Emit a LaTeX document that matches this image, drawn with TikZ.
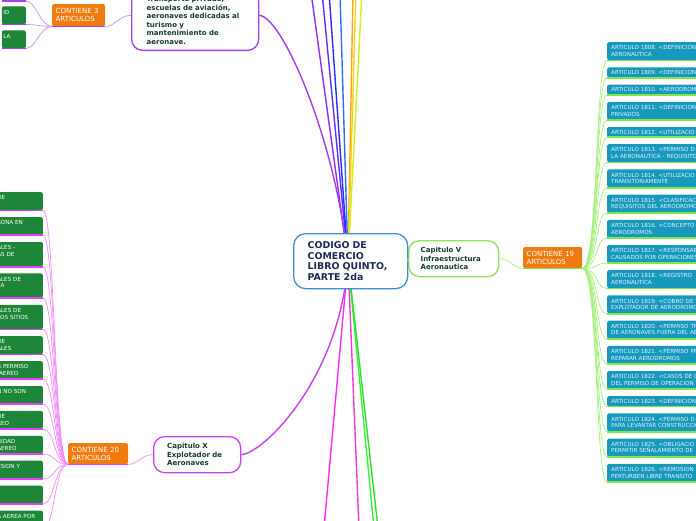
\documentclass[tikz,border=0pt]{standalone}
\usepackage{fontspec}
\setmainfont{DejaVu Sans}
\usetikzlibrary{positioning}
\frenchspacing

\definecolor{rootblue}{HTML}{3C8ED6}
\definecolor{navytxt}{HTML}{1B2A55}
\definecolor{chaptxt}{HTML}{173B2C}
\definecolor{capvgreen}{HTML}{8BE35A}
\definecolor{capxmag}{HTML}{CC3FEE}
\definecolor{toppurp}{HTML}{A43FF0}
\definecolor{cntorange}{HTML}{F07C10}
\definecolor{artteal}{HTML}{1799BE}
\definecolor{arttxt}{HTML}{E4F2F7}
\definecolor{artgreen}{HTML}{1D8639}
\definecolor{fangreen}{HTML}{A6F07E}
\definecolor{linegreen}{HTML}{7EE84A}
\definecolor{fanmag}{HTML}{F28CF7}
\definecolor{linemag}{HTML}{E040FB}
\definecolor{fanpurp}{HTML}{CB92F5}
\definecolor{rayA}{HTML}{8F2BFF}
\definecolor{rayB}{HTML}{5C2DFF}
\definecolor{rayC}{HTML}{2B2BFF}
\definecolor{rayD}{HTML}{2F6BFF}
\definecolor{rayE}{HTML}{FFA31A}
\definecolor{rayF}{HTML}{FFD11A}
\definecolor{rayG}{HTML}{C8F51A}
\definecolor{rayH}{HTML}{FF2BF0}
\definecolor{rayI}{HTML}{EC3CC8}
\definecolor{rayJ}{HTML}{3CF03C}
\definecolor{rayK}{HTML}{2EE02E}

\begin{document}
\begin{tikzpicture}[x=1pt, y=-1pt,
    root/.style={rectangle, draw=rootblue, line width=1.3pt, fill=white, rounded corners=12pt, text=navytxt, font=\fontsize{9.4}{10.7}\selectfont\bfseries, align=left, text width=86pt, inner xsep=14pt, inner ysep=6pt},
    chapter/.style={rectangle, fill=white, line width=1.3pt, rounded corners=11pt, text=chaptxt, font=\fontsize{7}{8.5}\selectfont\bfseries, align=left, inner ysep=5pt},
    count/.style={rectangle, fill=cntorange, rounded corners=1.5pt, text=white, font=\fontsize{7}{8.3}\selectfont, align=left, inner xsep=3.5pt, inner ysep=2.5pt},
    article/.style={rectangle, fill=artteal, rounded corners=1.5pt, text=arttxt, font=\fontsize{5.6}{6.5}\selectfont, align=left, text width=110pt, inner xsep=4pt, inner ysep=2pt, minimum height=18pt},
    single/.style={minimum height=10pt},
    leftart/.style={rectangle, fill=artgreen, rounded corners=1.5pt, text=white, font=\fontsize{5.6}{6.5}\selectfont, align=left, text width=44pt, inner xsep=1.5pt, inner ysep=2pt, minimum height=18pt},
    triple/.style={minimum height=24.5pt},
    fan/.style={line width=0.7pt},
    uline/.style={line width=1.8pt},
    ray/.style={line width=1.4pt}
]
\useasboundingbox (0,0) rectangle (696,520);
\clip (0,0) rectangle (696,520);

% Capitulo V and its articles
\node[chapter, draw=capvgreen, anchor=north west, text width=66pt, inner xsep=12pt, minimum height=36pt] (capv) at (408,240) {Capitulo V\\Infraestructura\\Aeronautica};
\node[count, anchor=north west, text width=52pt, minimum height=21pt] (cnt19) at (523,247) {CONTIENE 19\\ARTICULOS};

\node[article, anchor=north west] (a1808) at (607,42) {ARTICULO 1808. <DEFINICION\\AERONAUTICA};
\node[article, single, below=6.8pt of a1808] (a1809) {ARTICULO 1809. <DEFINICION};
\node[article, single, below=6.8pt of a1809] (a1810) {ARTICULO 1810. <AERODROM};
\node[article, below=6.8pt of a1810] (a1811) {ARTICULO 1811. <DEFINICION\\PRIVADOS};
\node[article, single, below=6.8pt of a1811] (a1812) {ARTICULO 1812. <UTILIZACIO};
\node[article, below=6.8pt of a1812] (a1813) {ARTICULO 1813. <PERMISO D\\LA AERONAUTICA - REQUISITO};
\node[article, below=6.8pt of a1813] (a1814) {ARTICULO 1814. <UTILIZACIO\\TRANSITORIAMENTE};
\node[article, below=6.8pt of a1814] (a1815) {ARTICULO 1815. <CLASIFICAC\\REQUISITOS DEL AERODROMO};
\node[article, below=6.8pt of a1815] (a1816) {ARTICULO 1816. <CONCEPTO\\AERODROMOS};
\node[article, below=6.8pt of a1816] (a1817) {ARTICULO 1817. <RESPONSAB\\CAUSADOS POR OPERACIONES};
\node[article, below=6.8pt of a1817] (a1818) {ARTICULO 1818. <REGISTRO\\AERONAUTICA};
\node[article, below=6.8pt of a1818] (a1819) {ARTICULO 1819. <COBRO DE T\\EXPLOTADOR DE AERODROMO};
\node[article, below=6.8pt of a1819] (a1820) {ARTICULO 1820. <PERMISO TR\\DE AERONAVES FUERA DEL AE};
\node[article, below=6.8pt of a1820] (a1821) {ARTICULO 1821. <PERMISO PR\\REPARAR AERODROMOS};
\node[article, below=6.8pt of a1821] (a1822) {ARTICULO 1822. <CASOS DE C\\DEL PERMISO DE OPERACION};
\node[article, single, below=6.8pt of a1822] (a1823) {ARTICULO 1823. <DEFINICION};
\node[article, below=6.8pt of a1823] (a1824) {ARTICULO 1824. <PERMISO D\\PARA LEVANTAR CONSTRUCCIO};
\node[article, below=6.8pt of a1824] (a1825) {ARTICULO 1825. <OBLIGACIO\\PERMITIR SEÑALAMIENTO DE};
\node[article, below=6.8pt of a1825] (a1826) {ARTICULO 1826. <REMOSION\\PERTURBEN LIBRE TRANSITO};

\draw[fan, fangreen] (capv.east) .. controls +(12,0) and +(-10,0) .. (cnt19.south west);
\draw[uline, linegreen] (cnt19.south west) -- (cnt19.south east);
\foreach \n in {1808,...,1826}{
  \draw[fan, fangreen] (cnt19.south east) .. controls +(16,0) and +(-12,0) .. (a\n.south west);
  \draw[uline, linegreen] (a\n.south west) -- (a\n.south east);
}

% Capitulo X and its articles
\node[chapter, draw=capxmag, anchor=north west, text width=60pt, inner xsep=13.5pt, minimum height=36pt] (capx) at (153,436) {Capitulo X\\Explotador de\\Aeronaves};
\node[count, anchor=north west, text width=53pt, minimum height=21pt] (cnt20) at (68,443) {CONTIENE 20\\ARTICULOS};

\node[leftart, anchor=north east] (lb1) at (43,192) {DE\\\mbox{}};
\node[leftart, below=6.5pt of lb1] (lb2) {SONA EN\\\mbox{}};
\node[leftart, triple, below=6.5pt of lb2] (lb3) {ALES -\\AS DE\\\mbox{}};
\node[leftart, triple, below=6.5pt of lb3] (lb4) {ALES DE\\LA\\\mbox{}};
\node[leftart, triple, below=6.5pt of lb4] (lb5) {ALES DE\\LOS SITIOS\\\mbox{}};
\node[leftart, below=6.5pt of lb5] (lb6) {DE\\ALES};
\node[leftart, below=6.5pt of lb6] (lb7) {R PERMISO\\\ AEREO};
\node[leftart, below=6.5pt of lb7] (lb8) {N NO SON\\\mbox{}};
\node[leftart, below=6.5pt of lb8] (lb9) {DE\\REO};
\node[leftart, below=6.5pt of lb9] (lb10) {RIDAD\\AEREO};
\node[leftart, below=6.5pt of lb10] (lb11) {ESION Y\\\mbox{}};
\node[leftart, below=6.5pt of lb11] (lb12) {};
\node[leftart, below=6.5pt of lb12] (lb13) {A AEREA POR\\\mbox{}};

\draw[fan, fanmag] (capx.west) .. controls +(-12,0) and +(10,0) .. (cnt20.south east);
\draw[uline, linemag] (cnt20.south west) -- (cnt20.south east);
\foreach \i in {1,...,13}{
  \draw[fan, fanmag] (cnt20.south west) .. controls +(-14,0) and +(12,0) .. (lb\i.south east);
  \draw[uline, linemag] (lb\i.south west) -- (lb\i.south east);
}

% upper chapter (cut by the top edge)
\node[chapter, draw=toppurp, anchor=south west, text width=97pt, inner xsep=15pt, inner ysep=6pt] (topbox) at (131,51) {Transporte privado,\\escuelas de aviación,\\aeronaves dedicadas al\\turismo y\\mantenimiento de\\aeronave.};
\node[count, anchor=north west, text width=46pt, minimum height=22pt] (cnt3) at (52,4) {CONTIENE 3\\ARTICULOS};

\node[leftart, text width=21pt, anchor=south east] (tl0) at (26,1) {\mbox{}\\\mbox{}};
\node[leftart, text width=21pt, anchor=south east] (tl1) at (26,24.5) {ID\\\mbox{}};
\node[leftart, text width=21pt, anchor=south east] (tl2) at (26,48.5) {LA\\\mbox{}};

\draw[fan, fanpurp] (cnt3.south east) .. controls +(10,0) and +(-12,0) .. ([yshift=5pt]topbox.west);
\draw[uline, toppurp] (cnt3.south west) -- (cnt3.south east);
\foreach \i in {0,1,2}{
  \draw[fan, fanpurp] (cnt3.south west) .. controls +(-12,0) and +(10,0) .. (tl\i.south east);
  \draw[uline, toppurp] (tl\i.south west) -- (tl\i.south east);
}

% rays from the root to branches outside the frame
\coordinate (rootc) at (348,261);
\foreach \x/\c [count=\i] in {311/rayA, 322/rayB, 329/rayC, 340/rayD, 353/rayE, 356/rayF, 362/rayG}{
  \coordinate (up\i) at (\x,-8);
  \draw[ray, \c] (rootc) -- (up\i);
}
\foreach \x/\c [count=\i] in {324/rayH, 359/rayI, 374/rayJ, 378/rayK}{
  \coordinate (dn\i) at (\x,528);
  \draw[ray, \c] (rootc) -- (dn\i);
}
\draw[ray, toppurp] (rootc) .. controls (336,140) and (282,16) .. ([yshift=5pt]topbox.east);
\draw[ray, capxmag] (rootc) .. controls (340,380) and (262,454) .. (capx.east);

% root
\node[root, anchor=north west, minimum height=55pt] (root) at (293,233) {CODIGO DE\\COMERCIO\\LIBRO QUINTO,\\PARTE 2da};
\draw[ray, capvgreen] (root.east) -- (capv.west);

\end{tikzpicture}
\end{document}
